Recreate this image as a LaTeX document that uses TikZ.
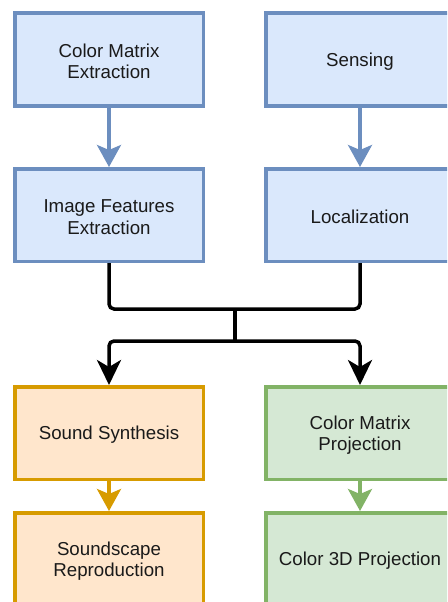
\documentclass[tikz,border=0pt]{standalone}
\usepackage{fontspec}
\setmainfont{Liberation Sans}
\usetikzlibrary{arrows.meta}

\definecolor{bluefill}{HTML}{DAE8FC}
\definecolor{bluedraw}{HTML}{6C8EBF}
\definecolor{orangefill}{HTML}{FFE6CC}
\definecolor{orangedraw}{HTML}{D79B00}
\definecolor{greenfill}{HTML}{D5E8D4}
\definecolor{greendraw}{HTML}{82B366}
\definecolor{labeltext}{HTML}{1A1A1A}

\tikzset{
  box/.style={draw, line width=3.5pt, minimum width=188.5pt, minimum height=92.5pt,
    inner sep=0pt},
  bluebox/.style={box, fill=bluefill, draw=bluedraw},
  orangebox/.style={box, fill=orangefill, draw=orangedraw},
  greenbox/.style={box, fill=greenfill, draw=greendraw},
  caption/.style={inner sep=0pt, align=center, text=labeltext,
    font=\fontsize{18.7pt}{21.5pt}\selectfont},
  flow/.style={line width=3.3pt, -{Stealth[length=22pt, width=24pt, inset=5pt]}},
  merge/.style={line width=3.5pt, black, rounded corners=5pt},
}

\begin{document}
\begin{tikzpicture}[x=1pt, y=-1pt]
  \useasboundingbox (0,0) rectangle (447,602);
  \clip (0,0) rectangle (447,602);

  % process boxes
  \node[bluebox]   (cme)  at (109,59.5) {};
  \node[bluebox]   (sens) at (360,59.5) {};
  \node[bluebox]   (ife)  at (109,215)  {};
  \node[bluebox]   (loc)  at (360,215)  {};
  \node[orangebox] (ss)   at (109,433)  {};
  \node[greenbox]  (cmp)  at (360,433)  {};
  \node[orangebox] (sr)   at (109,559)  {};
  \node[greenbox]  (c3d)  at (360,559)  {};

  % box captions, set a touch below the geometric centre
  \node[caption] (cmeT)  at ([yshift=-2pt]cme.center)  {Color Matrix\\Extraction};
  \node[caption] (sensT) at ([yshift=-2pt]sens.center) {Sensing};
  \node[caption] (ifeT)  at ([yshift=-2pt]ife.center)  {Image Features\\Extraction};
  \node[caption] (locT)  at ([yshift=-2pt]loc.center)  {Localization};
  \node[caption] (ssT)   at ([yshift=-2pt]ss.center)   {Sound Synthesis};
  \node[caption] (cmpT)  at ([yshift=-2pt]cmp.center)  {Color Matrix\\Projection};
  \node[caption] (srT)   at ([yshift=-2pt]sr.center)   {Soundscape\\Reproduction};
  \node[caption] (c3dT)  at ([yshift=-2pt]c3d.center)  {Color 3D Projection};

  % vertical flows within each column
  \draw[flow, bluedraw]   (cme.south) -- (ife.north);
  \draw[flow, bluedraw]   (sens.south) -- (loc.north);
  \draw[flow, orangedraw] (ss.south) -- (sr.north);
  \draw[flow, greendraw]  (cmp.south) -- (c3d.north);

  % merge and split between the two stages
  \coordinate (join)  at (235,309);
  \coordinate (split) at (235,341);
  \draw[merge] (ife.south) |- (join) -| (loc.south);
  \draw[merge] (join) -- (split);
  \draw[merge, -{Stealth[length=25pt, width=24pt, inset=7pt]}] (split) -| (ss.north);
  \draw[merge, -{Stealth[length=25pt, width=24pt, inset=7pt]}] (split) -| (cmp.north);
\end{tikzpicture}
\end{document}
